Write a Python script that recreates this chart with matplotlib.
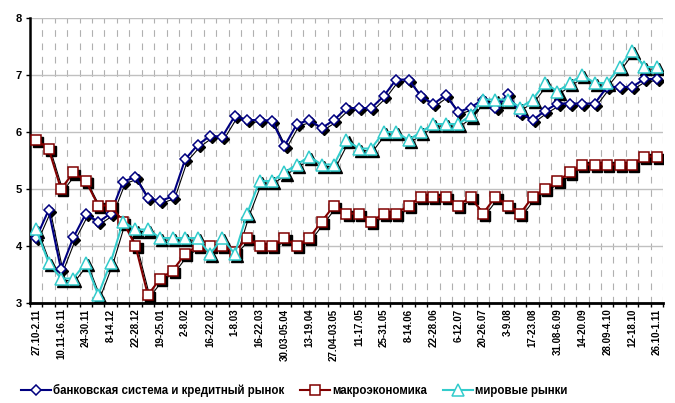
import matplotlib
matplotlib.use("Agg")
import matplotlib.pyplot as plt
from matplotlib import transforms

# --------------------------------
# DATA
# --------------------------------
tick_labels = [
    "27.10-2.11", "10.11-16.11", "24-30.11", "8-14.12", "22-28.12", "19-25.01",
    "2-8.02", "16-22.02", "1-8.03", "16-22.03", "30.03-05.04", "13-19.04",
    "27.04-03.05", "11-17.05", "25-31.05", "8-14.06", "22-28.06", "6-12.07",
    "20-26.07", "3-9.08", "17-23.08", "31.08-6.09", "14-20.09", "28.09-4.10",
    "12-18.10", "26.10-1.11",
]

banking = [
    4.14, 4.63, 3.59, 4.15, 4.57, 4.42, 4.57, 5.13, 5.21, 4.84,
    4.79, 4.87, 5.52, 5.77, 5.93, 5.92, 6.28, 6.21, 6.21, 6.20,
    5.75, 6.14, 6.21, 6.07, 6.21, 6.42, 6.42, 6.42, 6.63, 6.92,
    6.92, 6.63, 6.49, 6.65, 6.35, 6.43, 6.57, 6.42, 6.66, 6.34,
    6.21, 6.37, 6.50, 6.50, 6.50, 6.50, 6.79, 6.79, 6.79, 6.93,
    6.93,
]

macro = [
    5.86, 5.71, 5.00, 5.29, 5.14, 4.71, 4.71, 4.43, 4.00, 3.14,
    3.43, 3.57, 3.86, 4.00, 4.00, 4.00, 3.90, 4.14, 4.00, 4.00,
    4.14, 4.00, 4.14, 4.43, 4.71, 4.57, 4.57, 4.43, 4.57, 4.57,
    4.71, 4.86, 4.86, 4.86, 4.71, 4.86, 4.57, 4.86, 4.71, 4.57,
    4.86, 5.00, 5.14, 5.29, 5.43, 5.43, 5.43, 5.43, 5.43, 5.57,
    5.57,
]

world = [
    4.29, 3.71, 3.43, 3.43, 3.71, 3.14, 3.71, 4.43, 4.29, 4.29,
    4.14, 4.14, 4.14, 4.14, 3.86, 4.14, 3.86, 4.57, 5.14, 5.14,
    5.29, 5.43, 5.57, 5.43, 5.43, 5.86, 5.71, 5.71, 6.00, 6.00,
    5.86, 6.00, 6.14, 6.14, 6.14, 6.29, 6.57, 6.57, 6.57, 6.43,
    6.57, 6.86, 6.71, 6.86, 7.00, 6.86, 6.86, 7.14, 7.43, 7.14,
    7.14,
]

series_names = [
    "банковская система и кредитный рынок",
    "макроэкономика",
    "мировые рынки",
]

# --------------------------------
# STYLE
# --------------------------------
plt.rcParams.update({
    "font.family": ["Liberation Sans", "DejaVu Sans"],
    "font.weight": "bold",
    "font.size": 8,
})

BLUE = "#000080"
RED = "#800000"
CYAN = "#33CCCC"

styles = [
    dict(color=BLUE, marker="D", ms=5.0),
    dict(color=RED, marker="s", ms=7.5),
    dict(color=CYAN, marker="^", ms=8.0),
]

# --------------------------------
# PLOT
# --------------------------------
fig = plt.figure(figsize=(6.75, 4.03), dpi=100)
ax = fig.add_axes([0.0444, 0.2481, 0.9378, 0.7072])

x = list(range(len(banking)))
shadow = transforms.offset_copy(ax.transData, fig=fig, x=1.5, y=-1.5, units="points")

handles = []
for values, st, name in zip([banking, macro, world], styles, series_names):
    # drop shadow under the markers (and a faint one under the line)
    ax.plot(x, values, color="black", lw=0.8, marker=st["marker"], ms=st["ms"],
            mfc="black", mec="black", mew=1.0, transform=shadow, zorder=3)
    line, = ax.plot(x, values, color=st["color"], lw=1.5, marker=st["marker"],
                    ms=st["ms"], mfc="white", mec=st["color"], mew=1.1,
                    label=name, zorder=4)
    handles.append(line)

ax.set_xlim(-0.5, len(x) - 0.5)
ax.set_ylim(3, 8)

# boundaries carry tick marks and dashed grid, labels sit on every 2nd category
ax.set_xticks([i - 0.5 for i in range(len(x) + 1)])
ax.set_xticklabels([])
ax.set_xticks(list(range(0, len(x), 2)), minor=True)
ax.set_xticklabels(tick_labels, minor=True, rotation=90, fontsize=7, fontweight="bold")
ax.tick_params(axis="x", which="major", direction="out", length=3, width=1, color="black")
ax.tick_params(axis="x", which="minor", length=0, pad=4)

ax.set_yticks([3, 4, 5, 6, 7, 8])
ax.tick_params(axis="y", direction="out", length=3, width=1, pad=3, labelsize=8)
for lbl in ax.get_yticklabels():
    lbl.set_fontweight("bold")

ax.grid(axis="y", color="#c0c0c0", lw=1.0, ls="-", zorder=0)
ax.grid(axis="x", which="major", color="#b0b0b0", lw=0.8, ls=(0, (6, 6)), zorder=0)
ax.set_axisbelow(True)

for side in ["top", "right"]:
    ax.spines[side].set_visible(False)
ax.spines["left"].set_linewidth(1.8)
ax.spines["bottom"].set_linewidth(2.0)

fig.legend(handles=handles, loc="center", bbox_to_anchor=(0.436, 0.032), ncol=3,
           frameon=False, handlelength=2.6, handletextpad=0.15, columnspacing=1.4,
           prop={"size": 8.3, "weight": "bold"})

fig.savefig("out.png", dpi=100)
